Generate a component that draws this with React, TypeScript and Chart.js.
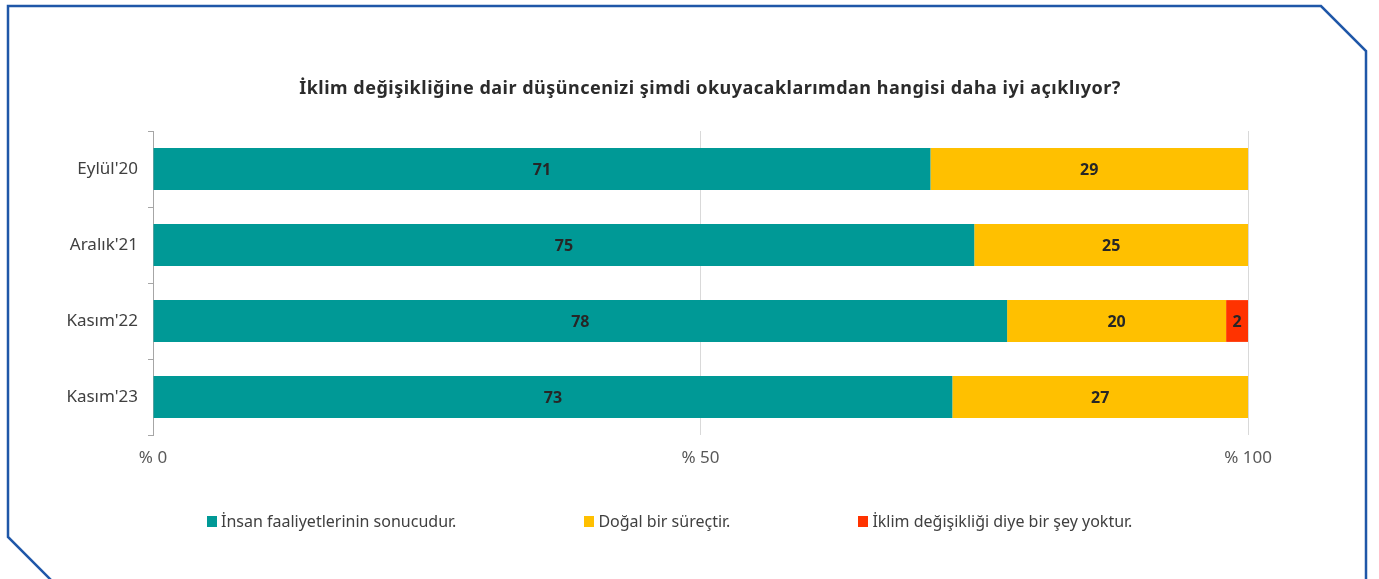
import React, { useEffect, useRef } from 'react';
import { Chart, registerables } from 'chart.js';

Chart.register(...registerables);

const titleText = 'İklim değişikliğine dair düşüncenizi şimdi okuyacaklarımdan hangisi daha iyi açıklıyor?';
const categories = ["Eylül'20", "Aralık'21", "Kasım'22", "Kasım'23"];
const humanValues = [71, 75, 78, 73];
const naturalValues = [29, 25, 20, 27];
const noneValues: (number | null)[] = [null, null, 2, null];
const seriesLabels = [
  'İnsan faaliyetlerinin sonucudur.',
  'Doğal bir süreçtir.',
  'İklim değişikliği diye bir şey yoktur.',
];
const seriesColors = ['#009996', '#FFC000', '#FF3300'];
const xMin = 0;
const xMax = 100;
const xStep = 50;

const FONT = '"Noto Sans", "Open Sans", sans-serif';

const framePlugin = {
  id: 'frame',
  afterDraw(chart: any) {
    const ctx = chart.ctx;
    ctx.save();
    ctx.strokeStyle = '#1F57A8';
    ctx.lineWidth = 2.5;
    ctx.lineJoin = 'miter';
    ctx.beginPath();
    ctx.moveTo(1366, 600);
    ctx.lineTo(1366, 51);
    ctx.lineTo(1321, 6);
    ctx.lineTo(8, 6);
    ctx.lineTo(8, 537);
    ctx.lineTo(52, 581);
    ctx.stroke();
    ctx.restore();
  },
};

const valueLabelPlugin = {
  id: 'valueLabels',
  afterDatasetsDraw(chart: any) {
    const ctx = chart.ctx;
    ctx.save();
    ctx.font = 'bold 16px ' + FONT;
    ctx.fillStyle = '#262626';
    ctx.textAlign = 'center';
    ctx.textBaseline = 'middle';
    chart.data.datasets.forEach((ds: any, i: number) => {
      const meta = chart.getDatasetMeta(i);
      meta.data.forEach((el: any, j: number) => {
        const v = ds.data[j];
        if (v == null || v === 0) return;
        const p = el.getCenterPoint();
        ctx.fillText(String(v), p.x, p.y + 1);
      });
    });
    ctx.restore();
  },
};

export default function App() {
  const canvasRef = useRef<HTMLCanvasElement | null>(null);

  useEffect(() => {
    const canvas = canvasRef.current;
    if (!canvas) return;
    const values = [humanValues, naturalValues, noneValues];
    const chart = new Chart(canvas, {
      type: 'bar',
      data: {
        labels: categories,
        datasets: seriesLabels.map((label, i) => ({
          label,
          data: values[i] as any,
          backgroundColor: seriesColors[i],
          borderWidth: 0,
          barPercentage: 0.55,
          categoryPercentage: 1,
        })),
      },
      options: {
        indexAxis: 'y',
        responsive: false,
        animation: false,
        devicePixelRatio: 1,
        layout: { padding: { left: 0, right: 131, top: 131, bottom: 104 } },
        plugins: {
          legend: { display: false },
          title: { display: false },
          tooltip: { enabled: false },
        },
        scales: {
          x: {
            stacked: true,
            min: xMin,
            max: xMax,
            afterFit: (s: any) => {
              s.height = 40;
            },
            ticks: {
              stepSize: xStep,
              padding: 13,
              color: '#595959',
              font: { family: FONT, size: 17 },
              callback: (v: any) => '% ' + v,
              maxRotation: 0,
            },
            grid: { color: '#D9D9D9', lineWidth: 1, drawTicks: false },
            border: { display: false },
          },
          y: {
            stacked: true,
            afterFit: (s: any) => {
              s.width = 153;
            },
            ticks: {
              padding: 10,
              color: '#404040',
              font: { family: FONT, size: 17 },
            },
            grid: {
              display: true,
              drawOnChartArea: false,
              offset: true,
              tickLength: 5,
              color: '#A6A6A6',
            },
            border: { display: true, color: '#A6A6A6', width: 1 },
          },
        },
      },
      plugins: [framePlugin, valueLabelPlugin],
    } as any);
    return () => chart.destroy();
  }, []);

  return (
    <div style={{ position: 'absolute', left: 0, top: 0, width: 1379, height: 579, background: '#fff', overflow: 'hidden' }}>
      <canvas ref={canvasRef} width={1379} height={579} style={{ position: 'absolute', left: 0, top: 0 }} />
      <div
        style={{
          position: 'absolute',
          left: 710,
          top: 75,
          transform: 'translateX(-50%)',
          whiteSpace: 'nowrap',
          fontFamily: FONT,
          fontWeight: 700,
          fontSize: 18,
          letterSpacing: '0.5px',
          lineHeight: '24px',
          color: '#2B2B2B',
        }}
      >
        {titleText}
      </div>
      <div
        style={{
          position: 'absolute',
          left: 207,
          top: 510,
          display: 'flex',
          gap: 128,
          fontFamily: FONT,
          fontSize: 16,
          lineHeight: '22px',
          color: '#404040',
          whiteSpace: 'nowrap',
        }}
      >
        {seriesLabels.map((label, i) => (
          <div key={label} style={{ display: 'flex', alignItems: 'center' }}>
            <span style={{ display: 'inline-block', width: 10, height: 11, background: seriesColors[i], marginRight: 4 }} />
            <span>{label}</span>
          </div>
        ))}
      </div>
    </div>
  );
}
